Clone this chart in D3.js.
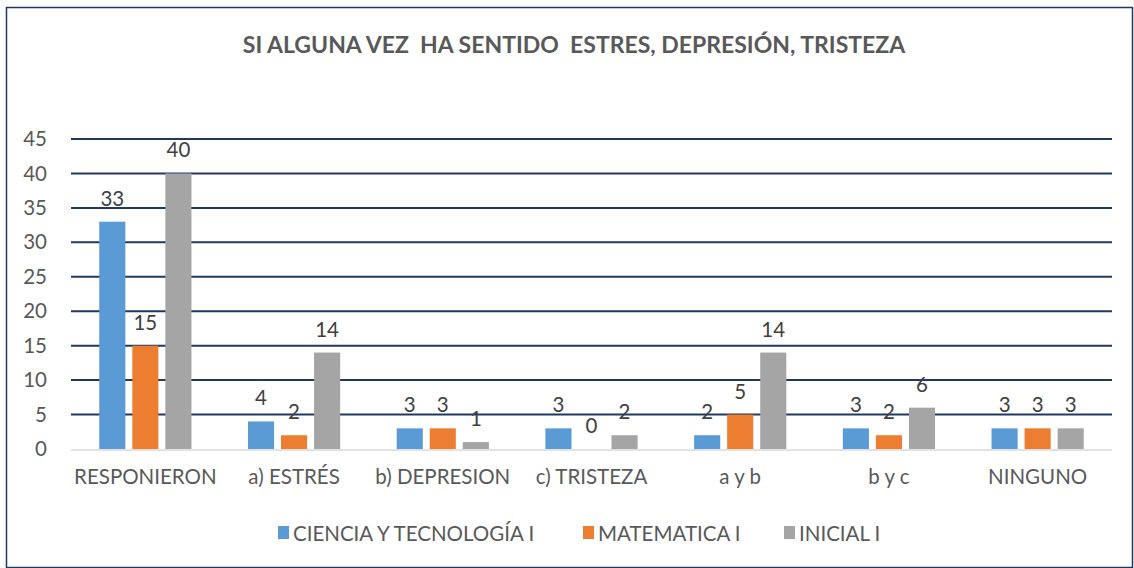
<!DOCTYPE html>
<head>
	<meta charset="utf-8" />
	<style>
		body {
			margin: 0;
			background-color: #fff;
			font-family: Lato, 'Open Sans', sans-serif;
		}
	</style>
</head>
<body>
	<div id="chart-area"></div>
	<script src="https://cdn.jsdelivr.net/npm/d3@7"></script>
	<script>
		const title = 'SI ALGUNA VEZ  HA SENTIDO  ESTRES, DEPRESIÓN, TRISTEZA';
		const categories = ['RESPONIERON', 'a) ESTRÉS', 'b) DEPRESION', 'c) TRISTEZA', 'a y b', 'b y c', 'NINGUNO'];
		const seriesNames = ['CIENCIA Y TECNOLOGÍA I', 'MATEMATICA I', 'INICIAL I'];
		const ciencia = [33, 4, 3, 3, 2, 3, 3];
		const matematica = [15, 2, 3, 0, 5, 2, 3];
		const inicial = [40, 14, 1, 2, 14, 6, 3];
		const yTicks = [0, 5, 10, 15, 20, 25, 30, 35, 40, 45];
		const colors = ['#5b9bd5', '#ed7d31', '#a5a5a5'];

		const W = 1134, H = 568;
		const margins = { top: 139, left: 71, right: 22, bottom: 119 };
		const width = W - margins.left - margins.right;
		const height = H - margins.top - margins.bottom;
		const fs = 20.5;

		const svg = d3.select('#chart-area').append('svg')
			.attr('width', W).attr('height', H);

		svg.append('rect')
			.attr('x', 6.5).attr('y', 7.5)
			.attr('width', W - 8).attr('height', H - 8)
			.attr('fill', '#fff').attr('stroke', '#1f3864').attr('stroke-width', 1.5);

		svg.append('text')
			.attr('x', 574).attr('y', 53)
			.attr('text-anchor', 'middle')
			.attr('font-size', 23).attr('font-weight', 'bold')
			.attr('fill', '#595959')
			.style('white-space', 'pre')
			.text(title);

		const g = svg.append('g')
			.attr('transform', `translate(${margins.left},${margins.top})`);

		const x0 = d3.scaleBand().domain(categories).range([0, width]).paddingInner(0.38).paddingOuter(0.19);
		const x1 = d3.scaleBand().domain(seriesNames).range([0, x0.bandwidth()]).paddingInner(0.21);
		const y = d3.scaleLinear().domain([0, 45]).range([height, 0]);

		// gridlines
		g.selectAll('.grid')
			.data(yTicks.filter(t => t > 0))
			.join('line')
			.attr('x1', 0).attr('x2', width)
			.attr('y1', d => y(d)).attr('y2', d => y(d))
			.attr('stroke', '#1f3864').attr('stroke-width', 2);

		const yAxis = g.append('g')
			.call(d3.axisLeft(y).tickValues(yTicks).tickSize(0).tickPadding(24));
		yAxis.select('.domain').remove();
		yAxis.selectAll('text')
			.attr('font-size', fs).attr('fill', '#595959')
			.attr('font-family', 'Lato, sans-serif');

		const series = [ciencia, matematica, inicial];
		const rows = categories.map((c, i) => ({
			cat: c,
			vals: seriesNames.map((s, k) => ({ s, k, v: series[k][i] }))
		}));

		const groups = g.selectAll('.grp')
			.data(rows)
			.join('g')
			.attr('transform', d => `translate(${x0(d.cat)},0)`);

		groups.selectAll('rect')
			.data(d => d.vals)
			.join('rect')
			.attr('x', d => x1(d.s))
			.attr('y', d => y(d.v))
			.attr('width', x1.bandwidth())
			.attr('height', d => height - y(d.v))
			.attr('fill', d => colors[d.k]);

		groups.selectAll('.lbl')
			.data(d => d.vals)
			.join('text')
			.attr('x', d => x1(d.s) + x1.bandwidth() / 2)
			.attr('y', d => y(d.v) - 16)
			.attr('text-anchor', 'middle')
			.attr('font-size', fs).attr('fill', '#404040')
			.text(d => d.v);

		// baseline
		g.append('line')
			.attr('x1', 0).attr('x2', width)
			.attr('y1', height + 1).attr('y2', height + 1)
			.attr('stroke', '#d9d9d9').attr('stroke-width', 1.5);

		const xAxis = g.append('g')
			.attr('transform', `translate(0,${height})`)
			.call(d3.axisBottom(x0).tickSize(0).tickPadding(20));
		xAxis.select('.domain').remove();
		xAxis.selectAll('text')
			.attr('font-size', fs).attr('fill', '#595959')
			.attr('font-family', 'Lato, sans-serif');

		// legend
		const legendX = [278, 583, 784];
		const legend = svg.selectAll('.leg')
			.data(seriesNames)
			.join('g')
			.attr('transform', (d, i) => `translate(${legendX[i]},526)`);
		legend.append('rect')
			.attr('width', 11).attr('height', 13)
			.attr('fill', (d, i) => colors[i]);
		legend.append('text')
			.attr('x', 15).attr('y', 15)
			.attr('font-size', fs).attr('fill', '#595959')
			.text(d => d);
	</script>
</body>
